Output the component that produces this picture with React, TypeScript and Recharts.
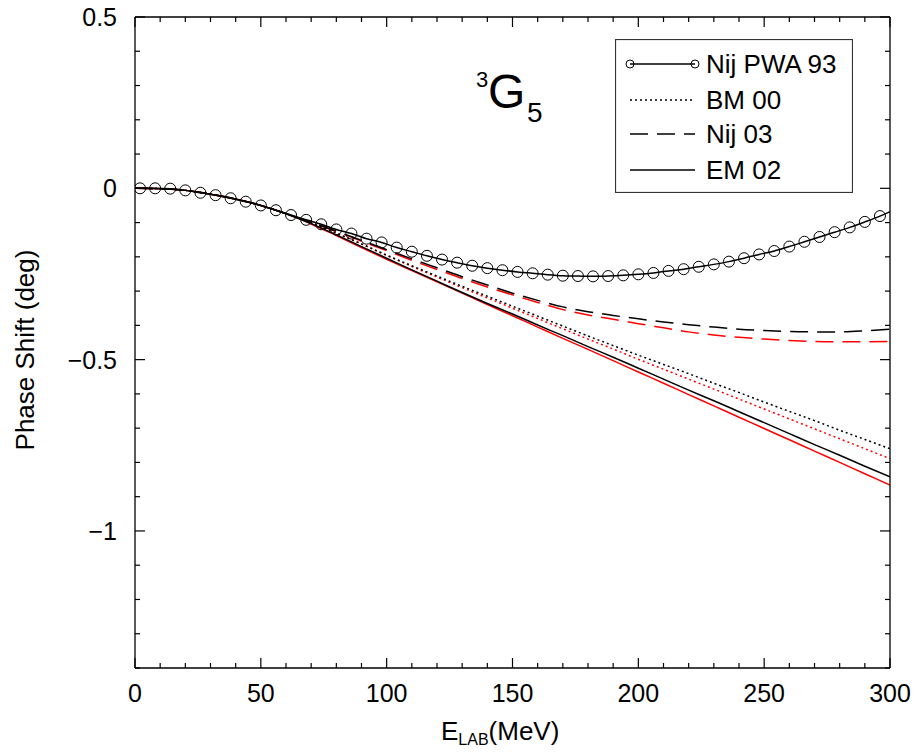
import React from 'react';
import { ComposedChart, Line, XAxis, YAxis, Legend } from 'recharts';

// ---- data ----
const energies = [0, 10, 20, 30, 40, 50, 60, 70, 80, 90, 100, 110, 120, 130, 140, 150, 160, 170, 180, 190, 200, 210, 220, 230, 240, 250, 260, 270, 280, 290, 300];

const nij03Black = [0, -0.001, -0.006, -0.017, -0.031, -0.05, -0.074, -0.099, -0.125, -0.152, -0.179, -0.206, -0.232, -0.258, -0.282, -0.306, -0.327, -0.346, -0.36, -0.371, -0.381, -0.39, -0.398, -0.405, -0.411, -0.415, -0.418, -0.419, -0.419, -0.416, -0.411];
const nij03Red = [0, -0.001, -0.006, -0.017, -0.031, -0.05, -0.074, -0.1, -0.126, -0.154, -0.182, -0.21, -0.237, -0.263, -0.288, -0.311, -0.333, -0.354, -0.37, -0.382, -0.395, -0.407, -0.419, -0.428, -0.435, -0.44, -0.444, -0.447, -0.448, -0.448, -0.447];
const bm00Black = [0, -0.001, -0.006, -0.017, -0.031, -0.05, -0.074, -0.101, -0.131, -0.162, -0.195, -0.226, -0.256, -0.286, -0.315, -0.344, -0.373, -0.402, -0.431, -0.459, -0.487, -0.514, -0.541, -0.569, -0.596, -0.624, -0.651, -0.678, -0.706, -0.733, -0.76];
const bm00Red = [0, -0.001, -0.006, -0.017, -0.031, -0.05, -0.074, -0.101, -0.131, -0.163, -0.196, -0.228, -0.259, -0.29, -0.32, -0.35, -0.38, -0.41, -0.44, -0.469, -0.499, -0.528, -0.557, -0.586, -0.615, -0.644, -0.673, -0.702, -0.731, -0.76, -0.789];
const em02Black = [0, -0.001, -0.006, -0.017, -0.031, -0.05, -0.074, -0.103, -0.136, -0.17, -0.204, -0.238, -0.271, -0.304, -0.336, -0.367, -0.399, -0.43, -0.462, -0.493, -0.525, -0.557, -0.589, -0.62, -0.652, -0.684, -0.716, -0.748, -0.779, -0.811, -0.842];
const em02Red = [0, -0.001, -0.006, -0.017, -0.031, -0.05, -0.074, -0.104, -0.138, -0.173, -0.207, -0.24, -0.273, -0.306, -0.339, -0.372, -0.405, -0.438, -0.47, -0.503, -0.536, -0.569, -0.602, -0.635, -0.668, -0.701, -0.734, -0.767, -0.8, -0.833, -0.866];

// Nij PWA 93: curve end points + marker points
const pwaE = [0, 2, 8, 14, 20, 26, 32, 38, 44, 50, 56, 62, 68, 74, 80, 86, 92, 98, 104, 110, 116, 122, 128, 134, 140, 146, 152, 158, 164, 170, 176, 182, 188, 194, 200, 206, 212, 218, 224, 230, 236, 242, 248, 254, 260, 266, 272, 278, 284, 290, 296, 300];
const pwaPhase = [0, 0, 0, -0.001, -0.006, -0.013, -0.02, -0.029, -0.039, -0.05, -0.064, -0.078, -0.092, -0.105, -0.12, -0.132, -0.147, -0.158, -0.173, -0.185, -0.197, -0.208, -0.217, -0.226, -0.233, -0.239, -0.244, -0.248, -0.252, -0.255, -0.256, -0.257, -0.256, -0.254, -0.251, -0.247, -0.241, -0.236, -0.229, -0.222, -0.214, -0.204, -0.193, -0.183, -0.17, -0.156, -0.142, -0.128, -0.114, -0.098, -0.081, -0.068];

const xTicks = [0, 10, 20, 30, 40, 50, 60, 70, 80, 90, 100, 110, 120, 130, 140, 150, 160, 170, 180, 190, 200, 210, 220, 230, 240, 250, 260, 270, 280, 290, 300];
const yTicks = [-1.4, -1.3, -1.2, -1.1, -1, -0.9, -0.8, -0.7, -0.6, -0.5, -0.4, -0.3, -0.2, -0.1, 0, 0.1, 0.2, 0.3, 0.4, 0.5];
const legendLabels = ['Nij PWA 93', 'BM 00', 'Nij 03', 'EM 02'];

const toSeries = (ys: number[]) => energies.map((x, i) => ({ x, y: ys[i] }));
const pwaData = pwaE.map((x, i) => ({ x, y: pwaPhase[i], m: i > 0 && i < pwaE.length - 1 }));

const FONT = '"Liberation Sans", Arial, Helvetica, sans-serif';
const DOTTED = '2 3';
const DASHED = '18 9';

const isMajorX = (v: number) => Math.abs(v % 50) < 1e-6;
const isMajorY = (v: number) => Math.abs(Math.round(v * 10) % 5) === 0;
const fmtY = (v: number) => {
  const r = Math.round(v * 10) / 10;
  if (r === 0) return '0';
  return r < 0 ? '\u2212' + String(-r) : String(r);
};

const XTickBottom = (p: any) => {
  const { x, y, payload } = p;
  const major = isMajorX(payload.value);
  return (
    <g>
      <line x1={x} x2={x} y1={y} y2={y - (major ? 10 : 5)} stroke="#000" strokeWidth={1.2} />
      {major && (
        <text x={x} y={y + 34} textAnchor="middle" fontSize={25} fontFamily={FONT} fill="#000">
          {payload.value}
        </text>
      )}
    </g>
  );
};
const XTickTop = (p: any) => {
  const { x, y, payload } = p;
  const major = isMajorX(payload.value);
  return <line x1={x} x2={x} y1={y} y2={y + (major ? 10 : 5)} stroke="#000" strokeWidth={1.2} />;
};
const YTickLeft = (p: any) => {
  const { x, y, payload } = p;
  const major = isMajorY(payload.value);
  return (
    <g>
      <line x1={x} x2={x + (major ? 10 : 5)} y1={y} y2={y} stroke="#000" strokeWidth={1.2} />
      {major && (
        <text x={x - 18} y={y + 9} textAnchor="end" fontSize={25} fontFamily={FONT} fill="#000">
          {fmtY(payload.value)}
        </text>
      )}
    </g>
  );
};
const YTickRight = (p: any) => {
  const { x, y, payload } = p;
  const major = isMajorY(payload.value);
  return <line x1={x} x2={x - (major ? 10 : 5)} y1={y} y2={y} stroke="#000" strokeWidth={1.2} />;
};

const YLabel = (p: any) => {
  const cx = 25;
  const cy = 350;
  return (
    <text x={cx} y={cy} transform={`rotate(-90 ${cx} ${cy})`} textAnchor="middle" dominantBaseline="central" fontSize={26} fontFamily={FONT} fill="#000">
      Phase Shift (deg)
    </text>
  );
};
const XLabel = (p: any) => (
  <text x={441} y={740} textAnchor="start" fontSize={26} fontFamily={FONT} fill="#000">
    E<tspan fontSize={16} dy={5}>LAB</tspan>
    <tspan dy={-5}>(MeV)</tspan>
  </text>
);
const Title = (p: any) => (
  <g fontFamily={FONT} fill="#000">
    <text x={476} y={87} fontSize={22}>3</text>
    <text x={488} y={108} fontSize={48}>G</text>
    <text x={527} y={122} fontSize={28}>5</text>
  </g>
);

const LegendBox = () => {
  const styles = [
    { dash: undefined, marker: true },
    { dash: DOTTED, marker: false },
    { dash: DASHED, marker: false },
    { dash: undefined, marker: false },
  ];
  const rows = [25, 61, 95, 131];
  return (
    <svg width={238} height={154} style={{ display: 'block' }}>
      <rect x={0.5} y={0.5} width={237} height={153} fill="#fff" stroke="#333" strokeWidth={1.2} />
      {legendLabels.map((name, i) => (
        <g key={name}>
          <line x1={15} x2={80} y1={rows[i]} y2={rows[i]} stroke="#000" strokeWidth={1.4} strokeDasharray={styles[i].dash} />
          {styles[i].marker && (
            <g>
              <circle cx={15} cy={rows[i]} r={4} fill="none" stroke="#000" strokeWidth={1} />
              <circle cx={80} cy={rows[i]} r={4} fill="none" stroke="#000" strokeWidth={1} />
            </g>
          )}
          <text x={91} y={rows[i] + 9} fontSize={26} fontFamily={FONT} fill="#000">
            {name}
          </text>
        </g>
      ))}
    </svg>
  );
};

const PwaDot = (p: any) => {
  const { cx, cy, payload, index } = p;
  if (!payload.m) return <g key={`d${index}`} />;
  return <circle key={`d${index}`} cx={cx} cy={cy} r={5.5} fill="none" stroke="#000" strokeWidth={1} />;
};

export default function App() {
  return (
    <div style={{ position: 'fixed', left: 0, top: 0, width: 915, height: 752, overflow: 'hidden', background: '#fff' }}>
      <ComposedChart width={915} height={752} margin={{ top: 0, right: 0, bottom: 0, left: 0 }}>
        <XAxis
          type="number"
          dataKey="x"
          domain={[0, 300]}
          ticks={xTicks}
          interval={0}
          tickSize={0}
          tickMargin={0}
          tickLine={false}
          height={84}
          axisLine={{ stroke: '#000', strokeWidth: 1.3 }}
          tick={<XTickBottom />}
          label={<XLabel />}
          allowDataOverflow
        />
        <XAxis
          xAxisId="top"
          orientation="top"
          type="number"
          dataKey="x"
          domain={[0, 300]}
          ticks={xTicks}
          interval={0}
          tickSize={0}
          tickMargin={0}
          tickLine={false}
          height={17}
          axisLine={{ stroke: '#000', strokeWidth: 1.3 }}
          tick={<XTickTop />}
          label={<Title />}
          allowDataOverflow
        />
        <YAxis
          type="number"
          domain={[-1.4, 0.5]}
          ticks={yTicks}
          interval={0}
          tickSize={0}
          tickMargin={0}
          tickLine={false}
          width={135}
          axisLine={{ stroke: '#000', strokeWidth: 1.3 }}
          tick={<YTickLeft />}
          label={<YLabel />}
          allowDataOverflow
        />
        <YAxis
          yAxisId="right"
          orientation="right"
          type="number"
          domain={[-1.4, 0.5]}
          ticks={yTicks}
          interval={0}
          tickSize={0}
          tickMargin={0}
          tickLine={false}
          width={25}
          axisLine={{ stroke: '#000', strokeWidth: 1.3 }}
          tick={<YTickRight />}
          allowDataOverflow
        />
        <Legend
          layout="vertical"
          align="center"
          verticalAlign="middle"
          wrapperStyle={{ position: 'absolute', left: 615, top: 39, width: 238, height: 154 }}
          content={() => <LegendBox />}
        />
        <Line data={toSeries(bm00Red)} dataKey="y" type="monotone" stroke="#ff0000" strokeWidth={1.5} strokeDasharray={DOTTED} dot={false} isAnimationActive={false} legendType="none" />
        <Line data={toSeries(nij03Red)} dataKey="y" type="monotone" stroke="#ff0000" strokeWidth={1.5} strokeDasharray={DASHED} dot={false} isAnimationActive={false} legendType="none" />
        <Line data={toSeries(em02Red)} dataKey="y" type="monotone" stroke="#ff0000" strokeWidth={1.5} dot={false} isAnimationActive={false} legendType="none" />
        <Line data={toSeries(bm00Black)} dataKey="y" type="monotone" stroke="#000" strokeWidth={1.5} strokeDasharray={DOTTED} dot={false} isAnimationActive={false} legendType="none" />
        <Line data={toSeries(nij03Black)} dataKey="y" type="monotone" stroke="#000" strokeWidth={1.5} strokeDasharray={DASHED} dot={false} isAnimationActive={false} legendType="none" />
        <Line data={toSeries(em02Black)} dataKey="y" type="monotone" stroke="#000" strokeWidth={1.5} dot={false} isAnimationActive={false} legendType="none" />
        <Line data={pwaData} dataKey="y" type="monotone" stroke="#000" strokeWidth={1.5} dot={PwaDot} isAnimationActive={false} legendType="none" />
      </ComposedChart>
    </div>
  );
}
